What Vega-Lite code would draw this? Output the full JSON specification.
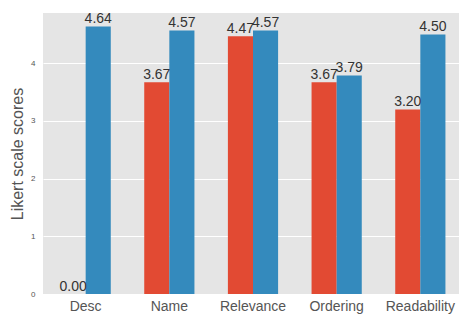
{
  "$schema": "https://vega.github.io/schema/vega-lite/v6.json",
  "autosize": "none",
  "padding": {"left": 43, "top": 13, "right": 0, "bottom": 21},
  "width": 420,
  "height": 281,
  "background": "white",
  "config": {
    "font": "Liberation Sans",
    "view": {"fill": "#E5E5E5", "stroke": null}
  },
  "data": {
    "values": [
      {"cat": "Desc", "series": "s1", "value": 0.00},
      {"cat": "Desc", "series": "s2", "value": 4.64},
      {"cat": "Name", "series": "s1", "value": 3.67},
      {"cat": "Name", "series": "s2", "value": 4.57},
      {"cat": "Relevance", "series": "s1", "value": 4.47},
      {"cat": "Relevance", "series": "s2", "value": 4.57},
      {"cat": "Ordering", "series": "s1", "value": 3.67},
      {"cat": "Ordering", "series": "s2", "value": 3.79},
      {"cat": "Readability", "series": "s1", "value": 3.20},
      {"cat": "Readability", "series": "s2", "value": 4.50}
    ]
  },
  "encoding": {
    "x": {
      "field": "cat", "type": "nominal", "sort": null,
      "scale": {"paddingInner": 0.4, "paddingOuter": 0.21},
      "axis": {"title": null, "labelAngle": 0, "labelFontSize": 14, "labelColor": "#555555", "ticks": false, "domain": false, "grid": false, "labelPadding": 5}
    },
    "xOffset": {"field": "series", "type": "nominal", "scale": {"paddingInner": 0, "paddingOuter": 0}},
    "y": {
      "field": "value", "type": "quantitative",
      "scale": {"domain": [0, 4.872], "nice": false, "zero": true},
      "axis": {"title": "Likert scale scores", "titleFontSize": 16, "titleFontWeight": "normal", "titleColor": "#555555", "titlePadding": 5,
               "values": [0, 1, 2, 3, 4], "labelFontSize": 8, "labelColor": "#555555", "ticks": false, "domain": false,
               "grid": true, "gridColor": "white", "gridWidth": 1, "labelPadding": 8}
    }
  },
  "layer": [
    {
      "mark": {"type": "bar", "strokeWidth": 0},
      "encoding": {
        "color": {"field": "series", "type": "nominal", "scale": {"domain": ["s1", "s2"], "range": ["#E24A33", "#348ABD"]}, "legend": null}
      }
    },
    {
      "mark": {"type": "text", "baseline": "alphabetic", "dy": -3, "fontSize": 14, "color": "#333333"},
      "encoding": {
        "text": {"field": "value", "type": "quantitative", "format": ".2f"}
      }
    }
  ]
}
